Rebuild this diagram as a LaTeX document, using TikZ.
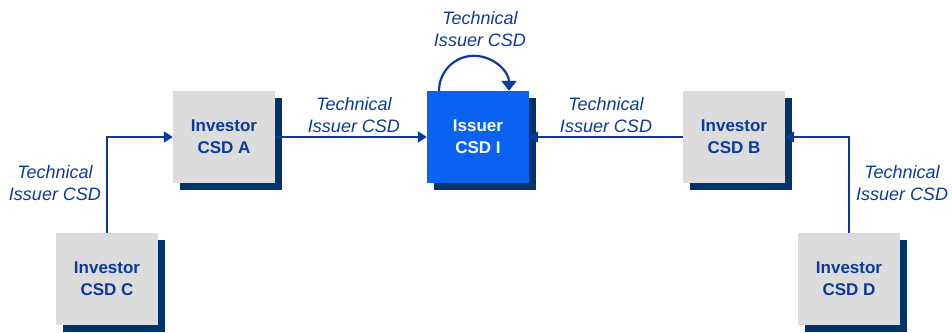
\documentclass[tikz,border=0pt]{standalone}
\usepackage{fontspec}
\setmainfont{Liberation Sans}
\usetikzlibrary{shadows,arrows.meta}
\definecolor{boxgray}{HTML}{DCDCDC}
\definecolor{navy}{HTML}{00336A}
\definecolor{dblue}{HTML}{0B3A9C}
\definecolor{bright}{HTML}{0A62F2}
\tikzset{
  csd/.style={rectangle, minimum width=102pt, minimum height=92pt, inner sep=0pt,
    fill=boxgray, draw=none, text=dblue, align=center,
    font=\bfseries\fontsize{17}{22}\selectfont,
    copy shadow={shadow xshift=7pt, shadow yshift=-7pt, fill=navy, draw=none}},
  issuer/.style={csd, fill=bright, text=white},
  lbl/.style={text=dblue, align=center, font=\itshape\fontsize{18}{22}\selectfont, inner sep=0pt},
  arr/.style={draw=dblue, line width=2.2pt, -{Triangle[length=9pt,width=11pt]}},
  looparr/.style={draw=dblue, line width=2.2pt, -{Triangle[length=10pt,width=15pt]}}
}
\begin{document}
\begin{tikzpicture}[x=1pt,y=1pt]
\useasboundingbox (0,0) rectangle (952,332);
\node[csd] (A) at (224,195) {Investor\\CSD A};
\node[issuer] (I) at (478,195) {Issuer\\CSD I};
\node[csd] (B) at (734,195) {Investor\\CSD B};
\node[csd] (C) at (107,53) {Investor\\CSD C};
\node[csd] (D) at (849,53) {Investor\\CSD D};

\draw[arr] (A.east) -- (I.west);
\draw[arr] (B.west) -- (I.east);
\draw[arr] (C.north) |- (A.west);
\draw[arr] (D.north) |- (B.east);
\draw[looparr] ([xshift=-39pt]I.north) arc[start angle=180, end angle=0, radius=35pt];

\node[lbl] (lt) at (480,303) {Technical\\Issuer CSD};
\node[lbl] (lai) at (354,217) {Technical\\Issuer CSD};
\node[lbl] (lib) at (606,217) {Technical\\Issuer CSD};
\node[lbl] (lc) at (55,149) {Technical\\Issuer CSD};
\node[lbl] (ld) at (902,149) {Technical\\Issuer CSD};
\end{tikzpicture}
\end{document}
